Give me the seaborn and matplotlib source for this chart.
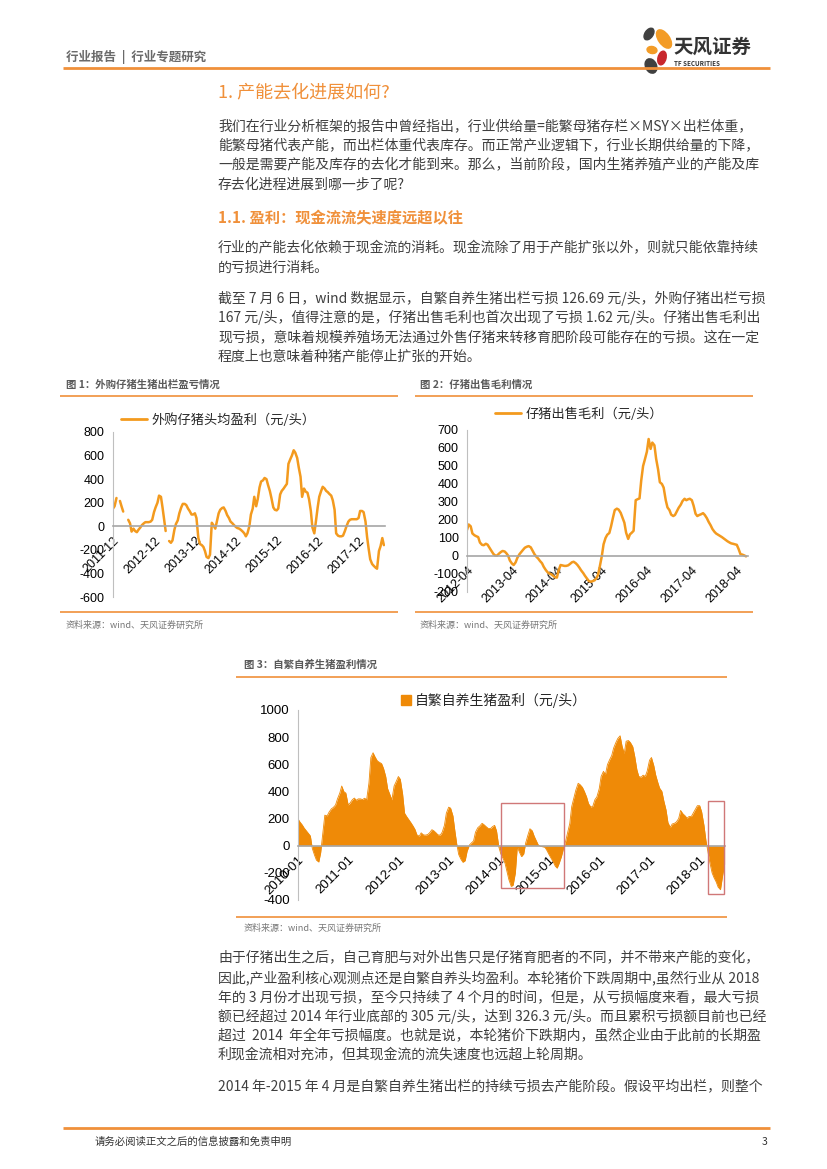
import numpy as np
import pandas as pd
import matplotlib
matplotlib.use('Agg')
import matplotlib.pyplot as plt
from matplotlib.patches import Ellipse, Rectangle, Patch
from matplotlib.lines import Line2D
from matplotlib.font_manager import FontProperties
import matplotlib.dates as mdates
import seaborn as sns

nan = np.nan

# Figure 1: purchased-piglet fattening profit (yuan/head), semi-monthly from 2011-12
purchased_profit = [
    150, 170, 240, nan, 215, 170, 125, nan, nan, 55, 25, -45,
    -20, -40, -50, -30, -10, 10, 25, 35, 35, 35, 40, 55,
    120, 160, 200, 260, 250, 160, 60, -40, nan, -125, -140, -120,
    -30, 20, 50, 110, 160, 190, 190, 180, 150, 130, 100, 100,
    110, 70, -100, -150, -160, -175, -210, -260, -270, -240, 30, 10,
    -20, 40, 110, 140, 155, 160, 130, 95, 70, 40, 25, 10,
    -5, -15, -20, -30, -45, -60, -85, -60, 0, 100, 150, 250,
    170, 230, 330, 380, 390, 410, 400, 350, 300, 240, 160, 140,
    135, 150, 270, 300, 320, 340, 360, 530, 570, 600, 645, 625,
    580, 500, 420, 250, 320, 295, 285, 230, 130, -10, -60, 40,
    160, 250, 300, 335, 320, 300, 290, 275, 260, 220, 140, -60,
    -80, -85, -85, -80, -40, 0, 40, 55, 60, 60, 60, 60,
    70, 130, 130, 120, 40, -90, -190, -280, -320, -335, -350, -360,
    -210, -170, -100, -160,
]
purchased_start = '2011-12-01'
purchased_ticks = ['2011-12', '2012-12', '2013-12', '2014-12', '2015-12', '2016-12', '2017-12']

# Figure 2: piglet sale gross margin (yuan/head), semi-monthly from 2012-04
piglet_margin = [
    145, 175, 165, 125, 115, 110, 105, 75, 62, 60, 68, 63,
    45, 30, 12, 3, 2, 12, 22, 28, 25, 15, 2, -25,
    -42, -50, -35, -10, 10, 22, 35, 46, 52, 55, 48, 30,
    10, -3, -15, -28, -40, -60, -78, -90, -98, -102, -110, -118,
    -120, -80, -50, -52, -55, -55, -52, -45, -35, -32, -40, -50,
    -65, -80, -95, -110, -125, -138, -143, -140, -135, -125, -105, -60,
    0, 65, 100, 118, 128, 165, 215, 255, 263, 258, 240, 215,
    185, 130, 95, 120, 130, 140, 310, 315, 320, 420, 500, 535,
    580, 650, 595, 630, 615, 540, 480, 410, 400, 380, 310, 270,
    255, 230, 222, 228, 250, 268, 285, 305, 318, 310, 315, 318,
    310, 280, 235, 222, 228, 232, 238, 228, 210, 190, 170, 150,
    135, 125, 118, 112, 105, 98, 90, 82, 75, 70, 68, 65,
    62, 40, 10, 8, 3, -2,
]
margin_start = '2012-04-01'
margin_ticks = ['2012-04', '2013-04', '2014-04', '2015-04', '2016-04', '2017-04', '2018-04']

# Figure 3: farrow-to-finish profit (yuan/head), semi-monthly from 2010-01
selfbred_profit = [
    198, 175, 153, 130, 112, 95, 72, -20, -69, -106, -120, -50,
    100, 225, 220, 248, 272, 282, 300, 345, 388, 440, 398, 388,
    300, 315, 340, 351, 335, 345, 345, 340, 350, 338, 462, 650,
    685, 655, 625, 615, 605, 570, 510, 420, 375, 338, 440, 470,
    510, 490, 380, 240, 215, 195, 170, 148, 120, 80, 70, 95,
    80, 78, 82, 95, 118, 110, 95, 80, 78, 100, 150, 240,
    284, 277, 220, 110, 10, -65, -101, -122, -110, -40, 5, 20,
    35, 100, 133, 145, 165, 155, 140, 128, 126, 140, 150, 110,
    -10, -60, -94, -130, -190, -250, -300, -290, -200, -10, -50, -80,
    -60, 20, 80, 125, 110, 70, 35, 5, -5, -7, -10, -32,
    -65, -90, -120, -150, -165, -131, -80, -25, 30, 91, 165, 289,
    355, 410, 460, 450, 430, 400, 360, 310, 285, 290, 340, 360,
    420, 511, 548, 524, 598, 630, 665, 720, 760, 790, 810, 734,
    680, 770, 775, 760, 730, 660, 560, 510, 505, 520, 511, 550,
    630, 650, 590, 520, 470, 425, 400, 330, 264, 170, 135, 160,
    165, 175, 200, 260, 235, 222, 203, 215, 215, 240, 270, 295,
    295, 250, 150, 40, -40, -120, -200, -235, -267, -305, -324, -230,
    -135,
]
selfbred_start = '2010-01-01'
selfbred_ticks = ['2010-01', '2011-01', '2012-01', '2013-01', '2014-01',
                  '2015-01', '2016-01', '2017-01', '2018-01']
# highlighted loss periods (start, end, low, high)
loss_boxes = [('2014-01-13', '2015-04-22', -312, 314),
              ('2018-02-27', '2018-06-25', -358, 330)]

W, H = 827, 1169
ORANGE = '#F0903A'
LINE = '#F39A1E'
AREA = '#EF8A07'
BODY = '#3F3F3F'
GREY = '#5A5A5A'

sns.set_style('white')
plt.rcParams['font.family'] = ['Noto Sans CJK SC', 'DejaVu Sans']
plt.rcParams['axes.unicode_minus'] = False

fig = plt.figure(figsize=(W / 100, H / 100), dpi=100)

# page layer in pixel coordinates
bg = fig.add_axes([0, 0, 1, 1], zorder=0)
bg.set_xlim(0, W)
bg.set_ylim(H, 0)
bg.axis('off')


def txt(x, y, s, size, color=BODY, weight='normal', ha='left'):
    bg.text(x, y, s, fontsize=size, color=color, fontweight=weight, ha=ha, va='center')


def rule(x0, x1, y, lw=1.2):
    bg.plot([x0, x1], [y, y], color=ORANGE, lw=lw, solid_capstyle='butt')


# header + logo
txt(66, 57, '行业报告  |  行业专题研究', 9, color='#6A6A6A', weight='bold')
rule(63, 770, 68, lw=2)
for cx, cy, w, h, a, c in [(649, 34, 8, 13, 35, '#404040'), (664, 39, 11, 21, -35, '#F39C27'),
                           (652, 50, 10, 7, 10, '#F39C27'), (662, 58, 8, 14, 15, '#C8272D'),
                           (651, 66, 11, 15, -25, '#404040')]:
    bg.add_patch(Ellipse((cx, cy), w, h, angle=a, color=c))
txt(673, 47, '天风证券', 14, color='#333333', weight='bold')
txt(674, 63, 'TF SECURITIES', 4.5, color='#333333', weight='bold')

# body text
txt(218, 92, '1. 产能去化进展如何?', 13, color=ORANGE)
p1 = ['我们在行业分析框架的报告中曾经指出，行业供给量=能繁母猪存栏×MSY×出栏体重，',
      '能繁母猪代表产能，而出栏体重代表库存。而正常产业逻辑下，行业长期供给量的下降，',
      '一般是需要产能及库存的去化才能到来。那么，当前阶段，国内生猪养殖产业的产能及库',
      '存去化进程进展到哪一步了呢?']
for i, s in enumerate(p1):
    txt(218, 126 + i * 19.5, s, 10)
txt(218, 218, '1.1. 盈利：现金流流失速度远超以往', 11, color=ORANGE, weight='bold')
p2 = ['行业的产能去化依赖于现金流的消耗。现金流除了用于产能扩张以外，则就只能依靠持续',
      '的亏损进行消耗。']
for i, s in enumerate(p2):
    txt(218, 248 + i * 19.5, s, 10)
p3 = ['截至 7 月 6 日，wind 数据显示，自繁自养生猪出栏亏损 126.69 元/头，外购仔猪出栏亏损',
      '167 元/头，值得注意的是，仔猪出售毛利也首次出现了亏损 1.62 元/头。仔猪出售毛利出',
      '现亏损，意味着规模养殖场无法通过外售仔猪来转移育肥阶段可能存在的亏损。这在一定',
      '程度上也意味着种猪产能停止扩张的开始。']
for i, s in enumerate(p3):
    txt(218, 298 + i * 19.5, s, 10)
p4 = ['由于仔猪出生之后，自己育肥与对外出售只是仔猪育肥者的不同，并不带来产能的变化，',
      '因此,产业盈利核心观测点还是自繁自养头均盈利。本轮猪价下跌周期中,虽然行业从 2018',
      '年的 3 月份才出现亏损，至今只持续了 4 个月的时间，但是，从亏损幅度来看，最大亏损',
      '额已经超过 2014 年行业底部的 305 元/头，达到 326.3 元/头。而且累积亏损额目前也已经',
      '超过  2014  年全年亏损幅度。也就是说，本轮猪价下跌期内，虽然企业由于此前的长期盈',
      '利现金流相对充沛，但其现金流的流失速度也远超上轮周期。']
for i, s in enumerate(p4):
    txt(218, 958 + i * 19.5, s, 10)
txt(218, 1086, '2014 年-2015 年 4 月是自繁自养生猪出栏的持续亏损去产能阶段。假设平均出栏，则整个', 10)

# footer
rule(63, 770, 1128, lw=2)
txt(95, 1142, '请务必阅读正文之后的信息披露和免责申明', 7.5, color='#333333')
txt(767, 1142, '3', 7.5, color='#333333', ha='right')

# figure captions and frames
txt(66, 385, '图 1：外购仔猪生猪出栏盈亏情况', 7.5, color=GREY, weight='bold')
rule(60, 398, 396)
rule(60, 398, 612)
txt(66, 625, '资料来源：wind、天风证券研究所', 6.5, color='#777777')
txt(420, 385, '图 2：仔猪出售毛利情况', 7.5, color=GREY, weight='bold')
rule(415, 753, 396)
rule(415, 753, 612)
txt(420, 625, '资料来源：wind、天风证券研究所', 6.5, color='#777777')
txt(244, 665, '图 3：自繁自养生猪盈利情况', 7.5, color=GREY, weight='bold')
rule(236, 727, 677)
rule(236, 727, 917)
txt(244, 928, '资料来源：wind、天风证券研究所', 6.5, color='#777777')


def chart_axes(l, t, r, b):
    ax = fig.add_axes([l / W, 1 - b / H, (r - l) / W, (b - t) / H], zorder=2)
    ax.set_facecolor('none')
    return ax


def style(ax, ylim, ystep, xlim, ticks, fs):
    # spine position first: moving a spine resets the tick objects
    ax.spines['bottom'].set_position(('data', 0))
    ax.spines['top'].set_visible(False)
    ax.spines['right'].set_visible(False)
    ax.spines['left'].set_color('#BFBFBF')
    ax.spines['bottom'].set_color('#A6A6A6')
    ax.spines['bottom'].set_linewidth(1.2)
    ax.tick_params(axis='both', direction='out', length=3, width=0.8, color='#A6A6A6',
                   labelsize=fs, labelcolor='black', pad=3)
    ax.set_ylim(*ylim)
    yt = np.arange(ylim[0], ylim[1] + 1, ystep)
    ax.set_yticks(yt)
    ax.set_yticklabels([str(v) for v in yt], fontfamily='Liberation Sans', fontsize=fs)
    ax.set_xlim(pd.Timestamp(xlim[0]), pd.Timestamp(xlim[1]))
    ax.set_xticks(pd.to_datetime(ticks))
    ax.set_xticklabels(ticks, rotation=45, ha='right', va='top', rotation_mode='anchor',
                       fontfamily='Liberation Sans', fontsize=fs)
    ax.set_xlabel('')
    ax.set_ylabel('')


def legend(ax, handle, label, x, y, fs, **kw):
    ax.legend([handle], [label], loc='center left', bbox_to_anchor=(x / W, 1 - y / H),
              bbox_transform=fig.transFigure, frameon=False, borderpad=0, borderaxespad=0,
              prop=FontProperties(family=['Noto Sans CJK SC', 'DejaVu Sans'], size=fs), **kw)


# Figure 1
df1 = pd.DataFrame({'date': pd.date_range(purchased_start, periods=len(purchased_profit), freq='SMS'),
                    'value': purchased_profit})
df1['seg'] = df1['value'].isna().cumsum()
ax1 = chart_axes(113, 432, 385, 597)
sns.lineplot(data=df1.dropna(), x='date', y='value', units='seg', estimator=None,
             color=LINE, lw=1.8, ax=ax1)
style(ax1, (-600, 800), 200, ('2011-12-01', '2018-07-25'), purchased_ticks, 9)
legend(ax1, Line2D([], [], color=LINE, lw=2), '外购仔猪头均盈利（元/头）', 121, 420, 9.5,
       handlelength=2.0, handletextpad=0.3)

# Figure 2
df2 = pd.DataFrame({'date': pd.date_range(margin_start, periods=len(piglet_margin), freq='SMS'),
                    'value': piglet_margin})
ax2 = chart_axes(467, 430, 748, 592)
sns.lineplot(data=df2, x='date', y='value', color=LINE, lw=1.8, ax=ax2)
style(ax2, (-200, 700), 100, ('2012-04-01', '2018-07-01'), margin_ticks, 9)
legend(ax2, Line2D([], [], color=LINE, lw=2), '仔猪出售毛利（元/头）', 495, 414, 9.5,
       handlelength=2.0, handletextpad=0.3)

# Figure 3
df3 = pd.DataFrame({'date': pd.date_range(selfbred_start, periods=len(selfbred_profit), freq='SMS'),
                    'value': selfbred_profit})
ax3 = chart_axes(298, 710, 725, 900)
ax3.fill_between(df3['date'], df3['value'], 0, color=AREA, lw=0)
sns.lineplot(data=df3, x='date', y='value', color=AREA, lw=0.6, ax=ax3)
for x0, x1, y0, y1 in loss_boxes:
    d0 = mdates.date2num(pd.Timestamp(x0))
    d1 = mdates.date2num(pd.Timestamp(x1))
    ax3.add_patch(Rectangle((d0, y0), d1 - d0, y1 - y0, fill=False, ec='#D07878',
                            lw=1.0, clip_on=False, zorder=5))
style(ax3, (-400, 1000), 200, ('2010-01-01', '2018-07-04'), selfbred_ticks, 9.5)
legend(ax3, Patch(color=AREA), '自繁自养生猪盈利（元/头）', 401, 700, 10,
       handlelength=0.7, handleheight=0.7, handletextpad=0.3)

fig.savefig('out.png', dpi=100)
